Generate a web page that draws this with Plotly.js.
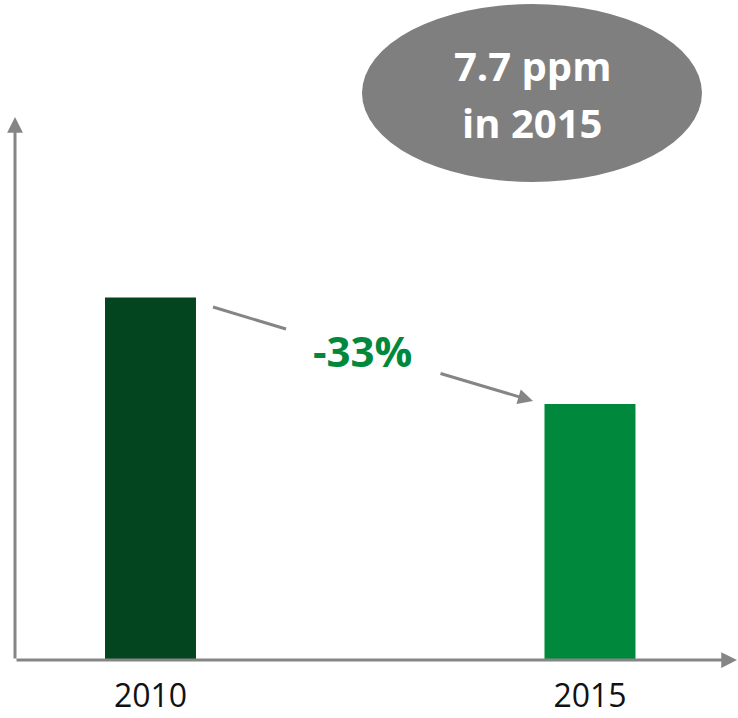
<!DOCTYPE html>
<html>
<head>
<meta charset="utf-8">
<script src="https://cdn.plot.ly/plotly-3.0.1.min.js"></script>
<style>html,body{margin:0;padding:0;background:#fff;}#chart{width:738px;height:718px;}</style>
</head>
<body>
<div id="chart"></div>
<script>
// ---- data ----
const categories = ['2010', '2015'];
const values = [10.9, 7.7];
const barColors = ['#03451F', '#00893D'];
const changeLabel = '-33%';
const calloutLines = ['7.7 ppm', 'in 2015'];

// ---- layout helpers (pixel -> paper) ----
const W = 738, H = 718;
const M = {l: 15, r: 0, t: 110, b: 58};
const PW = W - M.l - M.r, PH = H - M.t - M.b;
const px = x => (x - M.l) / PW;
const py = y => (H - M.b - y) / PH;
const gray = '#858585';
const FONT = 'Open Sans, Lato, sans-serif';

const trace = {
  type: 'bar',
  x: categories,
  y: values,
  width: 0.207,
  marker: {color: barColors, line: {width: 0}},
  hoverinfo: 'x+y'
};

const layout = {
  width: W, height: H,
  margin: M,
  paper_bgcolor: '#ffffff',
  plot_bgcolor: '#ffffff',
  showlegend: false,
  xaxis: {
    type: 'category',
    range: [-0.3083, 1.3368],
    showline: false, showgrid: false, zeroline: false,
    ticks: '',
    tickfont: {family: FONT, size: 32, color: '#111'},
    ticklabelstandoff: 14
  },
  yaxis: {
    range: [0, 16.54],
    showline: false, showgrid: false, zeroline: false,
    showticklabels: false, ticks: ''
  },
  shapes: [
    // callout ellipse
    {type: 'circle', xref: 'paper', yref: 'paper',
     x0: px(362), x1: px(702), y0: py(182), y1: py(4),
     fillcolor: '#7f7f7f', line: {width: 0}, layer: 'below'},
    // first segment of the change arrow
    {type: 'line', xref: 'paper', yref: 'paper',
     x0: px(213), y0: py(307), x1: px(286), y1: py(329),
     line: {color: gray, width: 3}}
  ],
  annotations: [
    // y axis with arrow
    {xref: 'paper', yref: 'paper', x: px(15), y: py(117), ax: 0, ay: 543,
     text: '', showarrow: true, arrowhead: 2, arrowsize: 1.05, arrowwidth: 3, arrowcolor: gray},
    // x axis with arrow
    {xref: 'paper', yref: 'paper', x: px(737), y: py(660), ax: -722, ay: 0,
     text: '', showarrow: true, arrowhead: 2, arrowsize: 1.05, arrowwidth: 3, arrowcolor: gray},
    // second segment of the change arrow
    {xref: 'paper', yref: 'paper', x: px(533), y: py(401), ax: -94, ay: -28,
     text: '', showarrow: true, arrowhead: 2, arrowsize: 1.0, arrowwidth: 3, arrowcolor: gray},
    // change label
    {xref: 'paper', yref: 'paper', x: px(362), y: py(350), showarrow: false,
     xanchor: 'center', yanchor: 'middle',
     text: '<b>' + changeLabel + '</b>',
     font: {family: FONT, size: 42, color: '#00893D'}},
    // callout text
    {xref: 'paper', yref: 'paper', x: px(532), y: py(66), showarrow: false,
     xanchor: 'center', yanchor: 'middle',
     text: '<b>' + calloutLines[0] + '</b>',
     font: {family: FONT, size: 40, color: '#ffffff'}},
    {xref: 'paper', yref: 'paper', x: px(532), y: py(122), showarrow: false,
     xanchor: 'center', yanchor: 'middle',
     text: '<b>' + calloutLines[1] + '</b>',
     font: {family: FONT, size: 40, color: '#ffffff'}}
  ]
};

Plotly.newPlot('chart', [trace], layout, {displayModeBar: false, staticPlot: true});
</script>
</body>
</html>
